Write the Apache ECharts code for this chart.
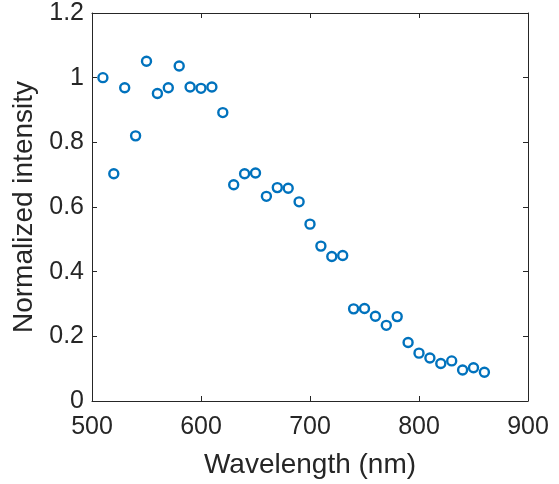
<!DOCTYPE html>
<html>
<head>
<meta charset="utf-8">
<script src="https://cdn.jsdelivr.net/npm/echarts@6/dist/echarts.min.js"></script>
<style>
html,body{margin:0;padding:0;background:#fff;}
#chart{width:559px;height:484px;}
</style>
</head>
<body>
<div id="chart"></div>
<script>
const wavelengths = [510,520,530,540,550,560,570,580,590,600,610,620,630,640,650,660,670,680,690,700,710,720,730,740,750,760,770,780,790,800,810,820,830,840,850,860];
const intensities = [1.00,0.703,0.969,0.820,1.051,0.951,0.969,1.036,0.971,0.967,0.971,0.892,0.669,0.703,0.705,0.633,0.660,0.658,0.616,0.547,0.479,0.447,0.450,0.285,0.286,0.262,0.234,0.261,0.181,0.148,0.133,0.116,0.124,0.096,0.103,0.089];
const xTicks = [500,600,700,800,900];
const yTicks = [0,0.2,0.4,0.6,0.8,1,1.2];
const xTitle = 'Wavelength (nm)';
const yTitle = 'Normalized intensity';

const axisColor = '#262626';
const font = 'Liberation Sans, Arial, Helvetica, sans-serif';
const points = wavelengths.map((w,i)=>[w,intensities[i]]);

const baseX = {
  type:'value', min:xTicks[0], max:xTicks[xTicks.length-1], interval:xTicks[1]-xTicks[0],
  axisLine:{show:true,onZero:false,lineStyle:{color:axisColor,width:1}},
  axisTick:{show:true,inside:true,length:5,lineStyle:{color:axisColor}},
  splitLine:{show:false}
};
const baseY = {
  type:'value', min:yTicks[0], max:yTicks[yTicks.length-1], interval:0.2,
  axisLine:{show:true,onZero:false,lineStyle:{color:axisColor,width:1}},
  axisTick:{show:true,inside:true,length:5,lineStyle:{color:axisColor}},
  splitLine:{show:false}
};

const chart = echarts.init(document.getElementById('chart'));
chart.setOption({
  animation:false,
  backgroundColor:'#fff',
  grid:{left:92,right:31,top:13,bottom:80,containLabel:false},
  xAxis:[
    Object.assign({}, baseX, {
      position:'bottom',
      name:xTitle, nameLocation:'middle', nameGap:50,
      nameTextStyle:{color:axisColor,fontSize:28,fontFamily:font},
      axisLabel:{show:true,color:axisColor,fontSize:25,fontFamily:font,margin:14}
    }),
    Object.assign({}, baseX, {position:'top', axisLabel:{show:false}})
  ],
  yAxis:[
    Object.assign({}, baseY, {
      position:'left',
      name:yTitle, nameLocation:'middle', nameGap:50, nameRotate:90,
      nameTextStyle:{color:axisColor,fontSize:28,fontFamily:font},
      axisLabel:{show:true,color:axisColor,fontSize:25,fontFamily:font,margin:8,
        formatter:v=>String(Math.round(v*10)/10)}
    }),
    Object.assign({}, baseY, {position:'right', axisLabel:{show:false}})
  ],
  series:[{
    type:'scatter', xAxisIndex:0, yAxisIndex:0,
    data:points, symbol:'circle', symbolSize:9,
    itemStyle:{color:'#ffffff',borderColor:'#0072BD',borderWidth:2.4,opacity:1}
  }]
});
</script>
</body>
</html>
